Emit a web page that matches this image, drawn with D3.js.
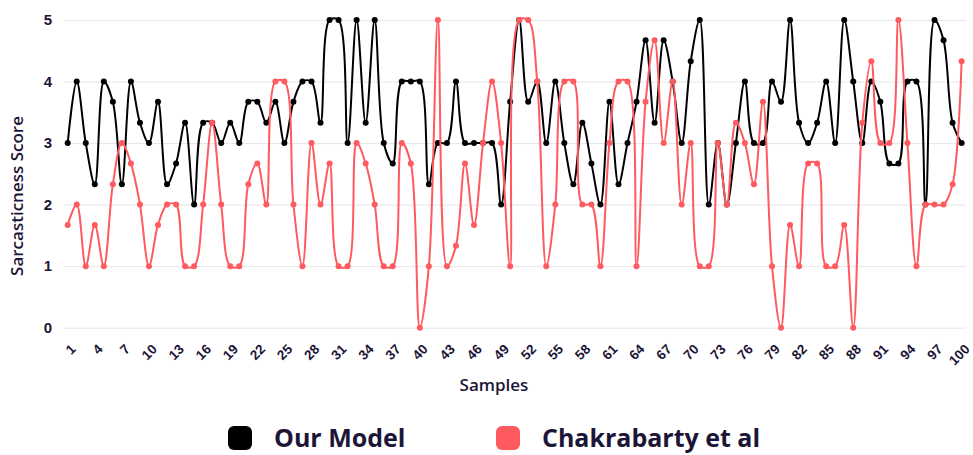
<!DOCTYPE html>
<html>
<head>
<meta charset="utf-8">
<script src="https://cdn.jsdelivr.net/npm/d3@7"></script>
<style>
  html, body { margin: 0; padding: 0; background: #fff; }
  svg { display: block; font-family: "Open Sans", "DejaVu Sans", sans-serif; }
</style>
</head>
<body>
<div id="chart"></div>
<script>
// sample indices 1..100
const samples = d3.range(1, 101);

// Our Model scores (mean of 3 raters)
const ourModel = [
  3, 4, 3, 2.33, 4, 3.67, 2.33, 4, 3.33, 3,
  3.67, 2.33, 2.67, 3.33, 2, 3.33, 3.33, 3, 3.33, 3,
  3.67, 3.67, 3.33, 3.67, 3, 3.67, 4, 4, 3.33, 5,
  5, 3, 5, 3.33, 5, 3, 2.67, 4, 4, 4,
  2.33, 3, 3, 4, 3, 3, 3, 3, 2, 3.67,
  5, 3.67, 4, 3, 4, 3, 2.33, 3.33, 2.67, 2,
  3.67, 2.33, 3, 3.67, 4.67, 3.33, 4.67, 4, 3, 4.33,
  5, 2, 3, 2, 3, 4, 3, 3, 4, 3.67,
  5, 3.33, 3, 3.33, 4, 3, 5, 4, 3, 4,
  3.67, 2.67, 2.67, 4, 4, 2, 5, 4.67, 3.33, 3
];

// Chakrabarty et al scores
const chakrabarty = [
  1.67, 2, 1, 1.67, 1, 2.33, 3, 2.67, 2, 1,
  1.67, 2, 2, 1, 1, 2, 3.33, 2, 1, 1,
  2.33, 2.67, 2, 4, 4, 2, 1, 3, 2, 2.67,
  1, 1, 3, 2.67, 2, 1, 1, 3, 2.67, 0,
  1, 5, 1, 1.33, 2.67, 1.67, 3, 4, 3, 1,
  5, 5, 4, 1, 2, 4, 4, 2, 2, 1,
  3, 4, 4, 1, 3.67, 4.67, 3, 4, 2, 3,
  1, 1, 3, 2, 3.33, 3, 2.33, 3.67, 1, 0,
  1.67, 1, 2.67, 2.67, 1, 1, 1.67, 0, 3.33, 4.33,
  3, 3, 5, 3, 1, 2, 2, 2, 2.33, 4.33
];

const xTicks = d3.range(1, 101, 3);
const yTicks = [0, 1, 2, 3, 4, 5];

const seriesNames = ['Our Model', 'Chakrabarty et al'];
const seriesColors = ['#000000', '#ff5a5f'];

const width = 973, height = 455;
const textColor = '#1d1538';

const svg = d3.select('#chart').append('svg')
  .attr('width', width)
  .attr('height', height);

const x = d3.scaleLinear().domain([1, 100]).range([67.7, 961.6]);
const y = d3.scaleLinear().domain([0, 5]).range([327.7, 20]);

// y axis + gridlines
const gridLeft = 63, gridRight = 966;
const yAxis = svg.append('g')
  .attr('transform', `translate(${gridLeft},0)`)
  .call(d3.axisLeft(y).tickValues(yTicks).tickSize(-(gridRight - gridLeft)).tickPadding(11).tickFormat(d3.format('d')));
yAxis.select('.domain').remove();
yAxis.selectAll('.tick line').attr('stroke', '#e6e6e6').attr('stroke-width', 1);
yAxis.selectAll('.tick text')
  .attr('fill', textColor)
  .style('font-size', '15px')
  .style('font-weight', 700);

// x axis
const xAxis = svg.append('g')
  .attr('transform', `translate(0,${y(0)})`)
  .call(d3.axisBottom(x).tickValues(xTicks).tickSize(0));
xAxis.select('.domain').remove();
xAxis.selectAll('.tick text')
  .attr('fill', textColor)
  .attr('x', 0)
  .attr('y', 0)
  .attr('dy', '0.35em')
  .attr('text-anchor', 'end')
  .attr('transform', 'translate(5,19) rotate(-45)')
  .style('font-size', '13.5px')
  .style('font-weight', 700);

// axis titles
svg.append('text')
  .attr('transform', 'translate(23,196) rotate(-90)')
  .attr('text-anchor', 'middle')
  .attr('fill', textColor)
  .style('font-size', '17px')
  .style('font-weight', 600)
  .text('Sarcasticness Score');

svg.append('text')
  .attr('x', 494)
  .attr('y', 391)
  .attr('text-anchor', 'middle')
  .attr('fill', textColor)
  .style('font-size', '17px')
  .style('font-weight', 600)
  .text('Samples');

// series
const line = d3.line()
  .x((d, i) => x(samples[i]))
  .y(d => y(d))
  .curve(d3.curveCatmullRom.alpha(0.5));

[ourModel, chakrabarty].forEach((vals, k) => {
  const g = svg.append('g');
  g.append('path')
    .datum(vals)
    .attr('fill', 'none')
    .attr('stroke', seriesColors[k])
    .attr('stroke-width', 2)
    .attr('d', line);
  g.selectAll('circle')
    .data(vals)
    .join('circle')
    .attr('cx', (d, i) => x(samples[i]))
    .attr('cy', d => y(d))
    .attr('r', 3)
    .attr('fill', seriesColors[k]);
});

// legend
const legendX = [228, 496];
const legend = svg.append('g');
seriesNames.forEach((name, k) => {
  legend.append('rect')
    .attr('x', legendX[k])
    .attr('y', 426)
    .attr('width', 24)
    .attr('height', 24)
    .attr('rx', 6)
    .attr('fill', seriesColors[k]);
  legend.append('text')
    .attr('x', legendX[k] + 46)
    .attr('y', 447)
    .attr('fill', textColor)
    .style('font-size', '25px')
    .style('font-weight', 700)
    .text(name);
});
</script>
</body>
</html>
